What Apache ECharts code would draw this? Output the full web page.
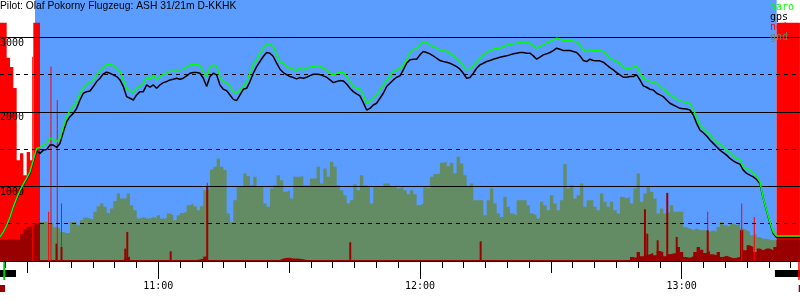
<!DOCTYPE html>
<html><head><meta charset="utf-8">
<script src="https://cdn.jsdelivr.net/npm/echarts@6/dist/echarts.min.js"></script>
<style>html,body{margin:0;padding:0;background:#fff}#c{width:800px;height:300px}</style>
</head><body><div id="c"></div>
<script>
const titleText = "Pilot: Olaf Pokorny Flugzeug: ASH 31/21m D-KKHK";
const sampleStart = "10:23:43";
const sampleStepSec = 45.85;
const axisStart = "10:23:43";
const axisEnd = "13:27:08";
const altMax = 3500;
const flightSpan = ["10:31:44", "13:21:47"];
const hourLabels = ["11:00", "12:00", "13:00"];
const halfHourTicks = ["10:30", "11:30", "12:30"];

const baro = [
323,390,479,591,726,838,950,1030,1107,1196,1353,1510,
1523,1555,1577,1644,1631,1599,1644,1801,
1935,2025,2070,2137,2249,2316,2374,2392,2428,2495,
2540,2598,2639,2643,2616,2585,2540,2428,2316,2285,
2258,2316,2348,2383,2464,2437,2495,2428,2473,2504,
2518,2549,2540,2563,2563,2572,2598,2630,2639,2643,
2616,2540,2473,2598,2630,2607,2473,2406,2392,2339,
2271,2249,2294,2339,2406,2518,2630,2697,2787,2854,
2912,2912,2876,2764,2675,2652,2607,2585,2572,2554,
2585,2563,2585,2598,2607,2621,2616,2585,2563,2518,
2495,2518,2527,2527,2473,2406,2339,2316,2303,2227,
2115,2137,2182,2227,2294,2361,2428,2473,2540,2563,
2585,2630,2706,2787,2831,2854,2899,2943,2930,2899,
2876,2854,2831,2822,2809,2787,2751,2719,2675,2616,
2563,2572,2616,2675,2719,2764,2796,2822,2840,2854,
2854,2876,2894,2903,2912,2921,2930,2939,2930,
2921,2885,2854,2876,2899,2921,2943,2966,2988,2975,
2957,2957,2957,2948,2939,2899,2831,2809,2840,2822,
2822,2818,2809,2764,2719,2697,2675,2652,2598,2585,
2585,2598,2616,2518,2451,2428,2406,2392,2383,2339,
2316,2271,2227,2204,2168,2150,2137,2124,2115,2025,
1935,1823,1779,1734,1689,1644,1599,1568,1532,1487,
1452,1407,1375,1362,1263,1241,1219,1183,1138,1062,
838,681,524,390,336,
336,336,336,336,336,336,336
];

const gps = [
323,390,479,591,717,824,927,1017,1093,1174,1331,1478,
1443,1487,1496,1555,1555,1523,1577,1734,
1868,1935,1980,2047,2159,2249,2271,2280,2339,2406,
2451,2509,2531,2518,2495,2473,2428,2339,2204,2182,
2159,2227,2271,2271,2361,2330,2361,2316,2361,2392,
2406,2428,2437,2451,2437,2451,2482,2518,2527,2527,
2518,2451,2339,2473,2518,2495,2361,2303,2285,2227,
2168,2150,2227,2303,2316,2406,2518,2607,2675,2742,
2795,2787,2742,2652,2572,2527,2500,2473,2460,2442,
2460,2451,2464,2486,2504,2504,2500,2482,2464,2428,
2392,2406,2419,2415,2374,2316,2271,2240,2213,2124,
2025,2047,2092,2115,2182,2249,2339,2383,2428,2464,
2482,2563,2652,2697,2706,2706,2764,2809,2796,2778,
2751,2719,2688,2675,2666,2652,2630,2607,2572,2518,
2451,2460,2518,2585,2630,2652,2675,2688,2706,2719,
2733,2742,2751,2764,2778,2787,2796,2796,2787,
2787,2751,2706,2733,2764,2778,2796,2822,2854,2840,
2822,2822,2822,2809,2796,2751,2688,2675,2706,2688,
2684,2684,2666,2630,2594,2563,2527,2495,2464,2464,
2473,2473,2495,2428,2348,2330,2303,2294,2249,2227,
2204,2159,2115,2092,2070,2047,2043,2038,2025,1958,
1846,1756,1720,1676,1622,1577,1532,1487,1452,1420,
1375,1344,1317,1299,1219,1174,1151,1129,1093,1039,
838,672,511,367,314,
314,314,314,314,314,314,314
];

const gnd = [
null,null,null,null,null,null,null,null,null,null,null,null,
524,524,502,502,457,435,390,376,
376,524,524,479,547,582,569,556,659,735,
771,726,645,703,806,905,838,838,905,748,
681,569,591,569,569,591,569,614,569,569,
636,614,547,614,645,659,748,771,735,681,
735,950,972,1228,1263,1375,1263,1219,636,524,
815,995,995,1174,1138,1017,1129,995,995,771,
726,972,1017,1151,1084,927,950,838,1129,1129,
1138,1017,1017,1107,1107,1263,1039,1241,1129,1331,
1263,1017,950,883,771,815,1030,950,1151,1017,
995,771,995,986,1004,1039,1039,995,1017,972,
995,950,896,950,896,748,771,986,972,1129,
1165,1174,1317,1331,1272,1317,1174,1398,1308,1151,
995,1039,815,815,815,614,815,972,771,636,
591,860,726,636,614,815,815,815,748,
636,614,569,793,748,681,883,771,681,815,
1300,972,1017,838,883,1039,726,815,815,726,
681,905,793,726,793,681,636,860,838,860,
771,972,1174,793,905,995,927,838,636,703,
636,659,748,659,659,659,457,435,412,435,
412,412,412,390,412,390,457,524,479,457,
502,479,502,435,412,390,345,367,323,300,
300,287,278,278,278,
null,null,null,null,null,null,null
];

const noise = [
3195,3195,2724,2603,2320,1351,1445,1150,1461,1351,3195,3195,
0,0,0,0,0,0,0,0,0,0,0,0,0,0,0,0,0,0,0,0,
0,0,0,0,0,0,0,0,0,0,0,0,0,0,0,0,0,0,0,0,
0,0,0,0,0,0,0,0,0,0,0,0,0,0,0,0,0,0,0,0,
0,0,0,0,0,0,0,0,0,0,0,0,0,0,0,0,0,0,0,0,
0,0,0,0,0,0,0,0,0,0,0,0,0,0,0,0,0,0,0,0,
0,0,0,0,0,0,0,0,0,0,0,0,0,0,0,0,0,0,0,0,
0,0,0,0,0,0,0,0,0,0,0,0,0,0,0,0,0,0,0,0,
0,0,0,0,0,0,0,0,0,0,0,0,0,0,0,0,0,0,0,0,
0,0,0,0,0,0,0,0,0,0,0,0,0,0,0,0,0,0,0,0,
0,0,0,0,0,0,0,0,0,0,0,0,0,0,0,0,0,0,0,0,
0,0,0,0,0,0,0,0,0,0,0,0,0,0,0,0,0,0,0,0,
0,
3195,3195,3195,3195,3195,3195,3195,3195
];

const enl = [
287,287,287,287,287,287,358,421,457,479,502,515,
15,15,15,15,15,15,15,15,
15,15,15,15,15,15,15,15,15,15,
15,15,15,15,15,15,15,40,60,15,
15,15,15,15,15,15,15,15,15,15,
15,15,15,15,15,15,15,15,15,20,
30,60,15,15,15,15,15,15,15,15,
15,15,15,15,15,15,15,15,15,15,
15,15,15,15,35,40,45,35,35,30,
25,15,15,15,15,15,15,15,15,15,
15,15,15,15,15,15,15,15,15,15,
15,15,15,15,15,15,15,15,15,15,
15,15,15,15,15,15,15,15,15,15,
15,15,15,15,15,15,15,15,15,15,
15,15,15,15,15,15,15,15,15,15,
15,15,15,15,15,15,15,15,15,15,
15,15,15,15,15,15,15,15,15,15,
15,15,15,15,15,15,15,15,15,15,
15,15,15,15,15,15,15,15,15,
54,45,121,63,76,90,108,76,134,121,
63,90,99,108,188,121,54,45,63,121,
188,152,108,134,90,76,121,54,72,54,
36,45,54,412,143,211,188,121,166,143,
166,166,143,188,
287,287,287,287,287,287,287,287
];

const noiseSpikeTimes = ["10:31:13","10:34:53","10:35:24","10:36:51","10:37:49","11:11:14","13:05:58","13:13:46","13:16:39"];
const noiseSpikeValues = [2738,659,2608,2160,771,1049,659,771,591];
const enlSpikeTimes = ["10:36:40","10:37:49","10:52:26","10:52:54","11:02:51","11:11:14","11:44:01","12:13:55","12:51:35","12:52:07","12:54:30","12:56:42","12:58:52","13:05:58"];
const enlSpikeValues = [233,188,166,390,130,995,251,264,694,367,278,914,323,412];

const groundSpans = [["10:23:43","10:27:23"],["13:21:23","13:27:08"]];
const takeoffMark = "10:24:42";
const landingMark = "13:26:54";
const enlMarkSpans = [["10:23:43","10:24:52"],["13:26:50","13:27:08"]];

const C = {blue:'#5a9cff', gnd:'#648c64', red:'#ff0000', dark:'#990000', baro:'#00ff00', gps:'#000000', tick:'#00cc00'};
const MONO = 'DejaVu Sans Mono';

const T = s => { const p = s.split(':').map(Number); return p[0]*60 + p[1] + (p[2]||0)/60; };
const xMin = T(axisStart), xMax = T(axisEnd);
const t0 = T(sampleStart);
const times = baro.map((_, i) => t0 + i * sampleStepSec / 60);
const pair = arr => arr.map((v, i) => [times[i], v]);
const fmt = v => { const h = Math.floor(v/60 + 1e-6), m = Math.round(v - h*60); return h + ':' + String(m).padStart(2,'0'); };

const minorTicks = [];
for (let m = Math.ceil(xMin/5)*5; m <= xMax; m += 5) minorTicks.push(m);

const baseX = {type:'value', min:xMin, max:xMax, gridIndex:0, position:'bottom', offset:0, splitLine:{show:false}};
const xAxes = [
  Object.assign({}, baseX, {
    axisLine:{show:true, onZero:false, lineStyle:{color:'#000', width:1}},
    axisTick:{show:true, customValues:minorTicks, length:7, lineStyle:{color:'#000'}},
    axisLabel:{show:true, customValues:hourLabels.map(T), formatter:fmt, margin:20, color:'#000', fontFamily:MONO, fontSize:10}
  }),
  Object.assign({}, baseX, {axisLine:{show:false}, axisLabel:{show:false},
    axisTick:{show:true, customValues:halfHourTicks.map(T), length:12, lineStyle:{color:'#000'}}}),
  Object.assign({}, baseX, {axisLine:{show:false}, axisLabel:{show:false},
    axisTick:{show:true, customValues:hourLabels.map(T), length:18, lineStyle:{color:'#000'}}}),
  Object.assign({}, baseX, {show:false}),
  Object.assign({}, baseX, {show:false}),
  {type:'value', gridIndex:1, min:xMin, max:xMax, show:false}
];

const segSeries = (a, b, lvl, w, color) => ({
  type:'line', xAxisIndex:5, yAxisIndex:2, data:[[T(a), lvl], [T(b), lvl]],
  symbol:'none', silent:true, z:5, lineStyle:{color:color, width:w, cap:'butt'}
});
const vTick = (t, color, w) => ({
  type:'line', xAxisIndex:5, yAxisIndex:2, data:[[T(t), 1], [T(t), 19]],
  symbol:'none', silent:true, z:5, lineStyle:{color:color, width:w}
});

const series = [
  {name:'flight', type:'line', data:[[T(flightSpan[0]), altMax], [T(flightSpan[1]), altMax]],
   symbol:'none', silent:true, z:1, lineStyle:{width:0}, areaStyle:{color:C.blue, opacity:1}},
  {name:'gnd', type:'line', step:'end', data:pair(gnd), symbol:'none', silent:true, z:2,
   lineStyle:{width:0}, itemStyle:{color:C.gnd}, areaStyle:{color:C.gnd, opacity:1}},
  {name:'noise', type:'line', step:'end', data:pair(noise), symbol:'none', silent:true, z:2,
   lineStyle:{width:0}, itemStyle:{color:C.red}, areaStyle:{color:C.red, opacity:1}},
  {name:'noise', type:'bar', xAxisIndex:3, data:noiseSpikeTimes.map((t,i)=>[T(t), noiseSpikeValues[i]]),
   barWidth:1, silent:true, z:2, itemStyle:{color:C.red}},
  {name:'enl', type:'line', step:'end', data:pair(enl), symbol:'none', silent:true, z:2,
   lineStyle:{width:0}, itemStyle:{color:C.dark}, areaStyle:{color:C.dark, opacity:1}},
  {name:'enl', type:'bar', xAxisIndex:4, data:enlSpikeTimes.map((t,i)=>[T(t), enlSpikeValues[i]]),
   barWidth:2, silent:true, z:2, itemStyle:{color:C.dark}},
  {name:'gps', type:'line', data:pair(gps), symbol:'none', silent:true, z:4,
   itemStyle:{color:C.gps}, lineStyle:{color:C.gps, width:1.5}},
  {name:'baro', type:'line', data:pair(baro), symbol:'none', silent:true, z:4,
   itemStyle:{color:C.baro}, lineStyle:{color:C.baro, width:1.5}}
];
groundSpans.forEach(s => series.push(segSeries(s[0], s[1], 12.5, 7, '#000')));
enlMarkSpans.forEach(s => series.push(segSeries(s[0], s[1], 27.5, 7, C.dark)));
series.push(vTick(takeoffMark, C.tick, 2));
series.push(vTick(landingMark, C.red, 1.5));

const chart = echarts.init(document.getElementById('c'), null, {renderer:'canvas'});
chart.setOption({
  animation:false,
  backgroundColor:'#ffffff',
  textStyle:{fontFamily:MONO},
  title:{text:titleText, left:0, top:0, padding:[1,0,0,0],
    textStyle:{fontFamily:'Liberation Sans', fontSize:10.3, fontWeight:'normal', color:'#000'}, z:10},
  legend:{orient:'vertical', left:765, top:2, padding:0, itemGap:0, itemWidth:0, itemHeight:0,
    icon:'rect', selectedMode:false, z:10,
    textStyle:{fontFamily:MONO, fontSize:10, lineHeight:10, padding:0},
    data:[
      {name:'baro', textStyle:{color:C.baro}},
      {name:'gps', textStyle:{color:C.gps}},
      {name:'noise', textStyle:{color:C.red}},
      {name:'gnd', textStyle:{color:C.gnd}}
    ]},
  grid:[{left:0, right:0, top:0, bottom:39, containLabel:false, outerBoundsMode:'none'},
        {left:0, right:0, top:261, bottom:0, containLabel:false, outerBoundsMode:'none'}],
  xAxis:xAxes,
  yAxis:[
    {type:'value', gridIndex:0, min:0, max:altMax, interval:1000, position:'left', z:3,
     axisLine:{show:false}, axisTick:{show:false},
     axisLabel:{show:true, inside:true, margin:0, verticalAlign:'top', align:'left', padding:[1,0,0,0],
       showMinLabel:false, showMaxLabel:false, color:'#000', fontFamily:MONO, fontSize:10,
       formatter:v => String(v)},
     splitLine:{show:true, showMinLine:false, showMaxLine:false, lineStyle:{color:'#000', width:1, type:'solid'}}},
    {type:'value', gridIndex:0, min:0, max:altMax, interval:500, position:'left', z:3,
     axisLine:{show:false}, axisTick:{show:false}, axisLabel:{show:false},
     splitLine:{show:true, showMinLine:false, showMaxLine:false, lineStyle:{color:'#000', width:1, type:[4,4]}}},
    {type:'value', gridIndex:1, min:0, max:39, inverse:true, show:false}
  ],
  series:series
});
</script>
</body></html>
